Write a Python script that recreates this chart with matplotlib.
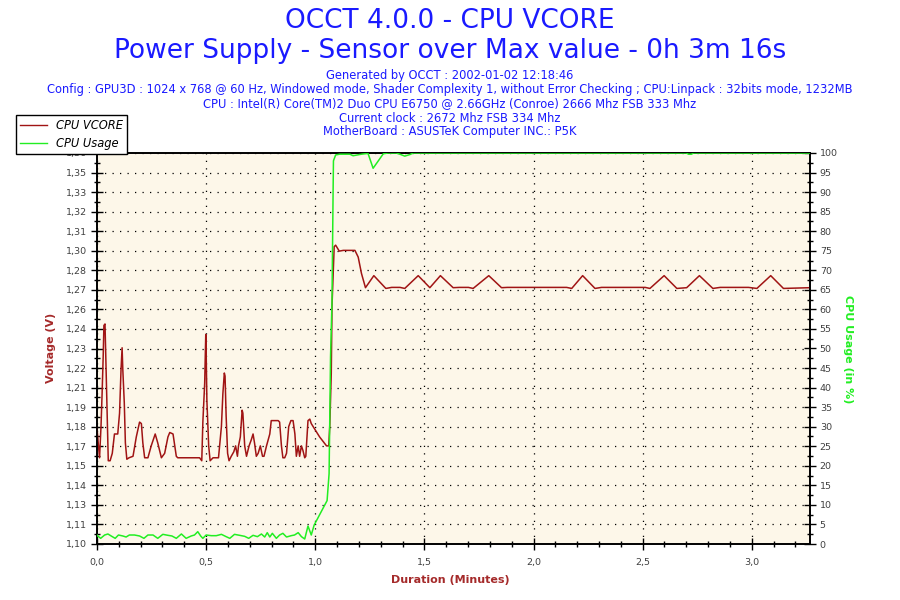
import numpy as np
import matplotlib.pyplot as plt
from matplotlib.ticker import FixedLocator, MultipleLocator

# CPU VCORE, time in seconds, value in volts
vcore_t = [0.0, 0.4, 0.7, 1.1, 1.4, 1.7, 1.9, 2.2, 2.4, 2.7, 3.1, 3.6, 4.2, 4.8, 5.7,
           6.2, 6.6, 6.9, 7.1, 7.5, 7.8, 8.2, 8.8, 9.9, 10.8, 11.7, 12.2, 12.6, 13.1,
           14.0, 14.9, 16.0, 16.7, 17.7, 18.6, 19.5, 20.0, 20.9, 21.8, 22.2, 28.2, 28.8,
           29.1, 29.6, 29.9, 30.0, 30.2, 30.7, 31.1, 31.9, 33.4, 34.2, 34.6, 35.0, 35.2,
           35.5, 35.9, 36.3, 36.9, 37.6, 38.1, 38.6, 38.9, 39.4, 39.9, 40.1, 40.6, 41.1,
           41.8, 42.4, 42.9, 43.3, 43.8, 44.3, 44.9, 45.5, 45.9, 46.6, 47.5, 47.9, 49.8,
           50.2, 50.7, 51.1, 51.6, 52.1, 52.7, 53.3, 53.9, 54.4, 54.8, 55.3, 55.7, 56.2,
           56.6, 57.1, 57.4, 58.0, 58.5, 58.9, 61.2, 63.1, 63.7, 64.0, 64.4, 64.6, 65.2,
           65.6, 66.6, 67.7, 70.9, 71.8, 72.7, 73.8, 76.1, 79.4, 81.0, 83.3, 84.6, 88.3,
           91.5, 94.4, 97.9, 99.6, 102.1, 103.4, 107.7, 111.2, 112.8, 129.1, 130.5, 133.5,
           136.9, 138.7, 150.7, 152.0, 155.9, 159.4, 162.1, 165.6, 169.3, 171.3, 179.1,
           181.4, 185.2, 188.7, 196.0]
vcore_v = [1.178, 1.166, 1.158, 1.179, 1.201, 1.226, 1.247, 1.248, 1.228, 1.197, 1.156,
           1.156, 1.161, 1.174, 1.174, 1.188, 1.217, 1.232, 1.217, 1.195, 1.168, 1.157,
           1.158, 1.159, 1.172, 1.182, 1.181, 1.168, 1.158, 1.158, 1.166, 1.174, 1.168,
           1.158, 1.161, 1.172, 1.175, 1.174, 1.159, 1.158, 1.158, 1.156, 1.182, 1.208,
           1.241, 1.231, 1.197, 1.166, 1.156, 1.158, 1.158, 1.179, 1.201, 1.215, 1.213,
           1.186, 1.161, 1.156, 1.159, 1.162, 1.166, 1.159, 1.166, 1.172, 1.190, 1.188,
           1.166, 1.159, 1.166, 1.170, 1.174, 1.168, 1.159, 1.161, 1.166, 1.159, 1.159,
           1.166, 1.174, 1.183, 1.183, 1.182, 1.166, 1.158, 1.158, 1.161, 1.179, 1.183,
           1.183, 1.174, 1.159, 1.166, 1.159, 1.166, 1.163, 1.158, 1.159, 1.183, 1.184,
           1.181, 1.172, 1.166, 1.166, 1.180, 1.215, 1.260, 1.300, 1.301, 1.297, 1.2975,
           1.2975, 1.293, 1.282, 1.2724, 1.2805, 1.2719, 1.2726, 1.2726, 1.2719, 1.2805,
           1.2724, 1.2805, 1.2724, 1.2726, 1.2726, 1.2719, 1.2805, 1.2724, 1.2726, 1.2726,
           1.2719, 1.2805, 1.2719, 1.2726, 1.2726, 1.2719, 1.2805, 1.2719, 1.2724, 1.2805,
           1.2719, 1.2726, 1.2726, 1.2719, 1.2805, 1.2719, 1.2724]

# CPU usage, time in seconds, value in %
usage_t = [0.0, 0.2, 1.0, 2.1, 3.0, 3.9, 5.0, 5.9, 7.1, 8.0, 8.9, 10.3, 11.7, 12.9, 14.0,
           15.4, 16.7, 18.1, 19.5, 20.6, 21.8, 23.2, 24.5, 25.9, 26.8, 27.7, 28.5, 29.1,
           30.0, 31.4, 32.8, 34.2, 35.5, 36.5, 37.8, 39.2, 40.6, 41.7, 42.9, 44.1, 45.2,
           46.1, 46.8, 47.5, 48.2, 49.3, 50.2, 51.1, 52.1, 53.4, 54.3, 55.3, 56.2, 57.1,
           58.0, 58.9, 59.7, 63.25, 63.8, 64.2, 64.6, 64.9, 65.0, 65.6, 66.7, 69.5, 70.4,
           72.7, 74.5, 75.9, 78.7, 80.0, 82.3, 83.25, 84.6, 86.0, 86.9, 162.0, 162.6,
           163.4, 164.0, 196.0]
usage_p = [2.3, 2.05, 1.45, 2.3, 2.56, 2.05, 1.45, 2.3, 2.05, 1.79, 2.3, 2.3, 2.05, 1.45,
           2.3, 2.3, 1.45, 2.47, 2.22, 2.05, 1.45, 2.56, 1.45, 2.05, 2.3, 3.15, 2.05, 1.45,
           2.3, 2.13, 2.13, 2.47, 1.88, 1.45, 2.47, 2.22, 1.96, 1.45, 2.22, 1.88, 2.56,
           1.79, 2.9, 1.79, 2.73, 1.45, 2.3, 2.73, 1.79, 2.13, 2.3, 2.9, 1.88, 1.28, 4.6,
           2.3, 4.86, 11.1, 18.0, 48.0, 62.0, 90.0, 98.0, 99.5, 99.7, 99.7, 99.3, 99.7,
           99.9, 96.1, 99.8, 100, 100, 99.7, 99.2, 99.6, 100, 100, 99.7, 99.7, 100, 100]

volt_labels = ['1,10', '1,11', '1,13', '1,14', '1,15', '1,17', '1,18', '1,19', '1,21',
               '1,22', '1,23', '1,24', '1,26', '1,27', '1,28', '1,30', '1,31', '1,32',
               '1,33', '1,35', '1,36']
time_ticks = [0.0, 0.5, 1.0, 1.5, 2.0, 2.5, 3.0]
time_labels = ['0,0', '0,5', '1,0', '1,5', '2,0', '2,5', '3,0']

blue = '#1a1aff'
red_txt = '#a52a2a'
red_line = '#a01414'
green = '#22ee22'
grey = '#404040'
dots = (0, (1, 5))

fig = plt.figure(figsize=(9, 6), dpi=100)
ax = fig.add_axes([97 / 900, 56 / 600, 713 / 900, 391 / 600])
ax2 = ax.twinx()
ax.set_facecolor('#fdf7e9')

ax.plot(np.array(vcore_t) / 60, vcore_v, color=red_line, lw=1.1, zorder=3)
ax2.plot(np.array(usage_t) / 60, usage_p, color=green, lw=1.1, zorder=3)

vmin, vmax = 1.10, 1.363
ax.set_xlim(0, 196 / 60)
ax.set_ylim(vmin, vmax)
ax2.set_ylim(0, 100)

vt = np.linspace(vmin, vmax, 21)
ax.yaxis.set_major_locator(FixedLocator(vt))
ax.yaxis.set_minor_locator(FixedLocator((vt[:-1] + vt[1:]) / 2))
ax.set_yticklabels(volt_labels)
ax.set_xticks(time_ticks)
ax.set_xticklabels(time_labels)
ax.xaxis.set_minor_locator(MultipleLocator(0.1))
ax2.yaxis.set_major_locator(MultipleLocator(5))
ax2.yaxis.set_minor_locator(MultipleLocator(2.5))

ax.grid(True, which='major', color='black', ls=dots, lw=0.9)
for a in (ax, ax2):
    a.tick_params(which='major', direction='inout', length=8, width=1,
                  labelsize=6.8, labelcolor=grey, pad=3)
    a.tick_params(which='minor', direction='inout', length=5, width=1)
    for s in a.spines.values():
        s.set_color('black')
        s.set_linewidth(1.2)
ax.tick_params(axis='x', which='major', pad=6)

fig.text(0.5, 1 - 21 / 600, 'OCCT 4.0.0 - CPU VCORE', ha='center', va='center',
         fontsize=19, color=blue)
fig.text(0.5, 1 - 51 / 600, 'Power Supply - Sensor over Max value - 0h 3m 16s',
         ha='center', va='center', fontsize=19, color=blue)
info = ['Generated by OCCT : 2002-01-02 12:18:46',
        'Config : GPU3D : 1024 x 768 @ 60 Hz, Windowed mode, Shader Complexity 1, '
        'without Error Checking ; CPU:Linpack : 32bits mode, 1232MB',
        'CPU : Intel(R) Core(TM)2 Duo CPU E6750 @ 2.66GHz (Conroe) 2666 Mhz FSB 333 Mhz',
        'Current clock : 2672 Mhz FSB 334 Mhz',
        'MotherBoard : ASUSTeK Computer INC.: P5K']
for i, line in enumerate(info):
    fig.text(0.5, 1 - (76 + i * 14) / 600, line, ha='center', va='center',
             fontsize=8.3, color=blue)

fig.text(0.5, 1 - 580 / 600, 'Duration (Minutes)', ha='center', va='center',
         fontsize=8, fontweight='bold', color=red_txt)
fig.text(51 / 900, 1 - 348 / 600, 'Voltage (V)', ha='center', va='center',
         rotation=90, fontsize=8, fontweight='bold', color=red_txt)
fig.text(848 / 900, 1 - 349 / 600, 'CPU Usage (in %)', ha='center', va='center',
         rotation=-90, fontsize=8, fontweight='bold', color=green)

h1, = ax.plot([], [], color=red_line, lw=1)
h2, = ax.plot([], [], color=green, lw=1)
leg = fig.legend([h1, h2], ['CPU VCORE', 'CPU Usage'], loc='upper left',
                 bbox_to_anchor=(16 / 900, 1 - 115 / 600), borderaxespad=0,
                 fancybox=False, framealpha=1, edgecolor='black',
                 prop={'size': 8.3, 'style': 'italic'}, handlelength=2.3,
                 borderpad=0.35, labelspacing=0.45, handletextpad=0.8)
leg.get_frame().set_linewidth(1)

fig.savefig('out.png', dpi=100)
